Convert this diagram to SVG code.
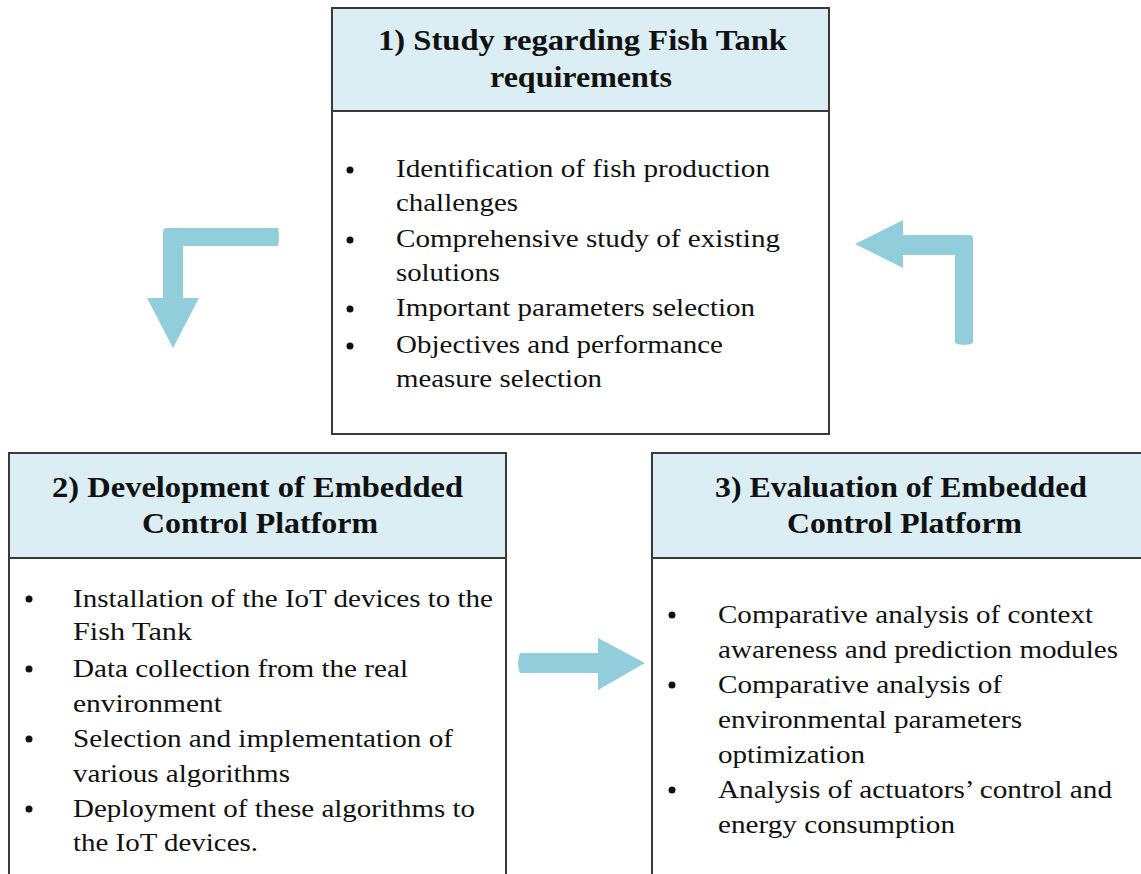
<svg xmlns="http://www.w3.org/2000/svg" width="1141" height="874" viewBox="0 0 1141 874">
  <style>
    .box { fill: #ffffff; stroke: #3a3a3a; stroke-width: 2; }
    .head { fill: #daeef3; stroke: #3a3a3a; stroke-width: 2; }
    .title { font-family: "Liberation Serif", "Times New Roman", serif; font-weight: bold; font-size: 30px; fill: #111; }
    .body { font-family: "Liberation Serif", "Times New Roman", serif; font-size: 26px; fill: #111; }
    .dot { fill: #111; }
    .flow { fill: #92cddc; }
  </style>
  <rect width="1141" height="874" fill="#ffffff"/>

  <!-- Step 1 -->
  <g id="step1">
    <rect class="box" x="332" y="8" width="497" height="426"/>
    <rect class="head" x="332" y="8" width="497" height="103"/>
    <text class="title" x="378" y="50" textLength="409" lengthAdjust="spacingAndGlyphs">1) Study regarding Fish Tank</text>
    <text class="title" x="490" y="87" textLength="182" lengthAdjust="spacingAndGlyphs">requirements</text>
    <g class="body" lengthAdjust="spacingAndGlyphs">
      <text x="396" y="177" textLength="374" lengthAdjust="spacingAndGlyphs">Identification of fish production</text>
      <text x="396" y="211" textLength="122" lengthAdjust="spacingAndGlyphs">challenges</text>
      <text x="396" y="247" textLength="384" lengthAdjust="spacingAndGlyphs">Comprehensive study of existing</text>
      <text x="396" y="281" textLength="104" lengthAdjust="spacingAndGlyphs">solutions</text>
      <text x="396" y="316" textLength="359" lengthAdjust="spacingAndGlyphs">Important parameters selection</text>
      <text x="396" y="353" textLength="327" lengthAdjust="spacingAndGlyphs">Objectives and performance</text>
      <text x="396" y="387" textLength="206" lengthAdjust="spacingAndGlyphs">measure selection</text>
    </g>
    <circle class="dot" cx="350" cy="170" r="3.5"/>
    <circle class="dot" cx="350" cy="240" r="3.5"/>
    <circle class="dot" cx="350" cy="309" r="3.5"/>
    <circle class="dot" cx="350" cy="346" r="3.5"/>
  </g>

  <!-- Step 2 -->
  <g id="step2">
    <rect class="box" x="9" y="453" width="497" height="440"/>
    <rect class="head" x="9" y="453" width="497" height="105"/>
    <text class="title" x="52" y="497" textLength="411" lengthAdjust="spacingAndGlyphs">2) Development of  Embedded</text>
    <text class="title" x="142" y="533" textLength="236" lengthAdjust="spacingAndGlyphs">Control Platform</text>
    <g class="body">
      <text x="73" y="607" textLength="420" lengthAdjust="spacingAndGlyphs">Installation of the IoT devices to the</text>
      <text x="73" y="640" textLength="119" lengthAdjust="spacingAndGlyphs">Fish Tank</text>
      <text x="73" y="677" textLength="335" lengthAdjust="spacingAndGlyphs">Data collection from the real</text>
      <text x="73" y="712" textLength="149" lengthAdjust="spacingAndGlyphs">environment</text>
      <text x="73" y="747" textLength="380" lengthAdjust="spacingAndGlyphs">Selection and implementation of</text>
      <text x="73" y="782" textLength="217" lengthAdjust="spacingAndGlyphs">various algorithms</text>
      <text x="73" y="817" textLength="402" lengthAdjust="spacingAndGlyphs">Deployment of these algorithms to</text>
      <text x="73" y="851" textLength="185" lengthAdjust="spacingAndGlyphs">the IoT devices.</text>
    </g>
    <circle class="dot" cx="29" cy="599" r="3.5"/>
    <circle class="dot" cx="29" cy="669" r="3.5"/>
    <circle class="dot" cx="29" cy="739" r="3.5"/>
    <circle class="dot" cx="29" cy="809" r="3.5"/>
  </g>

  <!-- Step 3 -->
  <g id="step3">
    <rect class="box" x="652" y="453" width="500" height="440"/>
    <rect class="head" x="652" y="453" width="500" height="105"/>
    <text class="title" x="715" y="497" textLength="372" lengthAdjust="spacingAndGlyphs">3) Evaluation of Embedded</text>
    <text class="title" x="787" y="533" textLength="235" lengthAdjust="spacingAndGlyphs">Control Platform</text>
    <g class="body">
      <text x="718" y="623" textLength="375" lengthAdjust="spacingAndGlyphs">Comparative analysis of context</text>
      <text x="718" y="658" textLength="400" lengthAdjust="spacingAndGlyphs">awareness and prediction modules</text>
      <text x="718" y="693" textLength="284" lengthAdjust="spacingAndGlyphs">Comparative analysis of</text>
      <text x="718" y="728" textLength="304" lengthAdjust="spacingAndGlyphs">environmental parameters</text>
      <text x="718" y="763" textLength="147" lengthAdjust="spacingAndGlyphs">optimization</text>
      <text x="718" y="798" textLength="394" lengthAdjust="spacingAndGlyphs">Analysis of actuators’ control and</text>
      <text x="718" y="833" textLength="237" lengthAdjust="spacingAndGlyphs">energy consumption</text>
    </g>
    <circle class="dot" cx="672" cy="615" r="3.5"/>
    <circle class="dot" cx="672" cy="685" r="3.5"/>
    <circle class="dot" cx="672" cy="790" r="3.5"/>
  </g>

  <!-- Cycle arrows -->
  <g id="connectors">
    <path class="flow" d="M278,228 Q280,237 278,246 L183,246 L183,298 L199,298 L173,348 L147,298 L163,298 L163,232 Q163,228 167,228 Z"/>
    <path class="flow" d="M973,239 L973,343 Q964,347 955,343 L955,255 L903,255 L903,268 L855,244 L903,220 L903,235 L969,235 Q973,235 973,239 Z"/>
    <path class="flow" d="M520,653 L598,653 L598,638 L645,663 L598,690 L598,673 L520,673 Q516,663 520,653 Z"/>
  </g>
</svg>
